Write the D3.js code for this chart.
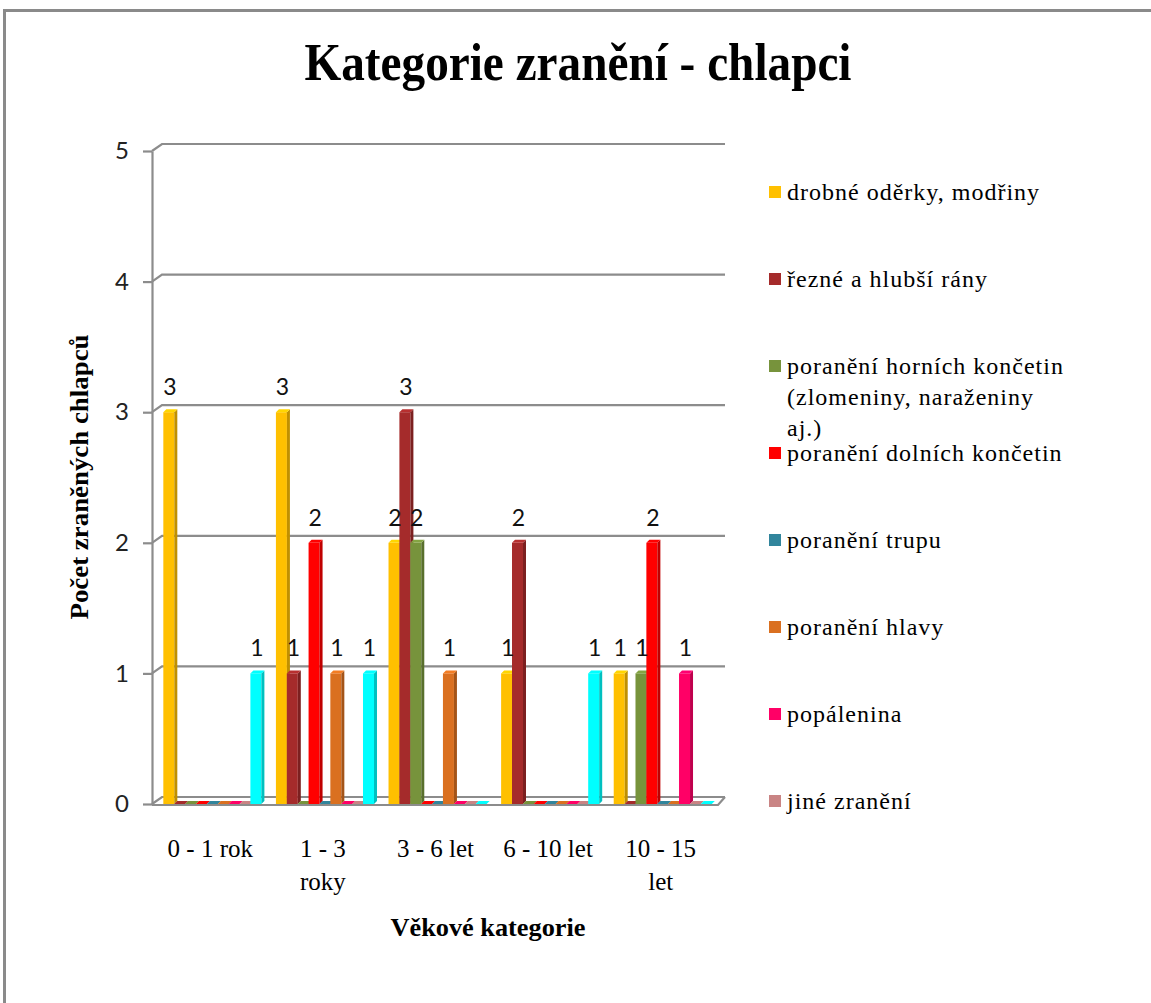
<!DOCTYPE html>
<html><head><meta charset="utf-8">
<script src="https://cdn.jsdelivr.net/npm/d3@7"></script>
<style>body{margin:0;background:#fff}</style>
</head><body><svg id="c" width="1151" height="1003"></svg>
<script>
// ---- data ----
const categories = ["0 - 1 rok", "1 - 3 roky", "3 - 6 let", "6 - 10 let", "10 - 15 let"];
const seriesNames = [
  "drobné oděrky, modřiny",
  "řezné a hlubší rány",
  "poranění horních končetin (zlomeniny, naraženiny aj.)",
  "poranění dolních končetin",
  "poranění trupu",
  "poranění hlavy",
  "popálenina",
  "jiné zranění",
  "" // unnamed series (not shown in legend)
];
const drobne     = [3, 3, 2, 1, 1];
const rezne      = [0, 1, 3, 2, 0];
const horni      = [0, 0, 2, 0, 1];
const dolni      = [0, 2, 0, 0, 2];
const trup       = [0, 0, 0, 0, 0];
const hlava      = [0, 1, 1, 0, 0];
const popalenina = [0, 0, 0, 0, 1];
const jine       = [0, 0, 0, 0, 0];
const neuvedeno  = [1, 1, 0, 1, 0];
const seriesValues = [drobne, rezne, horni, dolni, trup, hlava, popalenina, jine, neuvedeno];
const seriesColors = ["#FFC000", "#A52B2B", "#77933C", "#FF0000", "#31859C", "#DA7020", "#FF0066", "#C98484", "#00FFFF"];
const yTicks = [0, 1, 2, 3, 4, 5];
const titleText = "Kategorie zranění - chlapci";
const yTitleText = "Počet zraněných chlapců";
const xTitleText = "Věkové kategorie";

// ---- drawing ----
const svg = d3.select("#c");
const serif = "'Liberation Serif','Times New Roman',serif";
const sans = "Lato,'Liberation Sans',sans-serif";

svg.append("rect").attr("x", 4.5).attr("y", 10.5).attr("width", 1400).attr("height", 1200)
  .attr("fill", "#fff").attr("stroke", "#8a8a8a").attr("stroke-width", 3);

const x0 = d3.scaleBand().domain(categories).range([156, 719]).paddingInner(0.13).paddingOuter(0.065);
const x1 = d3.scaleBand().domain(d3.range(seriesValues.length)).range([0, x0.bandwidth()]);
const y = d3.scaleLinear().domain([0, 5]).range([804, 151]);

const axisX = 152, depthX = 10, depthY = 7, wallRight = 725;
const gridC = "#8c8c8c";

// gridlines with 3D wall offset
const grid = svg.append("g");
yTicks.forEach(v => {
  const yy = y(v);
  grid.append("path")
    .attr("d", `M${axisX},${yy}L${axisX + depthX},${yy - depthY}L${wallRight},${yy - depthY}`)
    .attr("fill", "none").attr("stroke", gridC).attr("stroke-width", 2.2);
});
// floor
const y0 = y(0);
svg.append("path")
  .attr("d", `M${axisX},${y0 + 1}L${718},${y0 + 1}L${wallRight},${y0 - depthY}`)
  .attr("fill", "none").attr("stroke", gridC).attr("stroke-width", 2.2);

// y axis
const yAxis = svg.append("g").attr("transform", `translate(${axisX},0)`)
  .call(d3.axisLeft(y).tickValues(yTicks).tickSize(9).tickSizeOuter(0).tickPadding(14).tickFormat(d3.format("d")));
yAxis.select(".domain").attr("stroke", gridC).attr("stroke-width", 2.2);
yAxis.selectAll(".tick line").attr("stroke", gridC).attr("stroke-width", 2.2);
yAxis.selectAll(".tick text").attr("font-family", sans).attr("font-size", 24).attr("fill", "#222");

// bars
const bw = 11, bdx = 3, bdy = 3;
const bars = svg.append("g");
categories.forEach((cat, ci) => {
  seriesValues.forEach((vals, si) => {
    const v = vals[ci];
    const bx = x0(cat) + x1(si);
    const yt = y(v);
    const col = d3.color(seriesColors[si]);
    const g = bars.append("g");
    if (v > 0) {
      g.append("rect").attr("x", bx).attr("y", yt).attr("width", bw).attr("height", y0 - yt).attr("fill", col.formatHex());
      g.append("path").attr("d", `M${bx + bw},${yt}L${bx + bw + bdx},${yt - bdy}L${bx + bw + bdx},${y0 - bdy}L${bx + bw},${y0}Z`)
        .attr("fill", col.darker(0.8).formatHex());
    }
    g.append("path").attr("d", `M${bx},${yt}L${bx + bdx},${yt - bdy}L${bx + bw + bdx},${yt - bdy}L${bx + bw},${yt}Z`)
      .attr("fill", v > 0 ? col.brighter(0.3).formatHex() : col.formatHex());
    if (v > 0) {
      svg.append("text").attr("x", bx + bw / 2 + 1).attr("y", yt - 17)
        .attr("text-anchor", "middle").attr("font-family", sans).attr("font-size", 23).attr("fill", "#111")
        .text(v);
    }
  });
});

// wrap helper
function wrapText(sel, text, maxW, lineH) {
  const words = text.split(" ");
  let line = [];
  let tspan = sel.append("tspan").attr("x", sel.attr("x")).attr("dy", 0);
  words.forEach(w => {
    line.push(w);
    tspan.text(line.join(" "));
    if (tspan.node().getComputedTextLength() > maxW && line.length > 1) {
      line.pop();
      tspan.text(line.join(" "));
      line = [w];
      tspan = sel.append("tspan").attr("x", sel.attr("x")).attr("dy", lineH).text(w);
    }
  });
}

// category labels
categories.forEach(cat => {
  const t = svg.append("text").attr("x", x0(cat) + x0.bandwidth() / 2 - 2).attr("y", 857)
    .attr("text-anchor", "middle").attr("font-family", serif).attr("font-size", 25).attr("fill", "#000");
  wrapText(t, cat, 94, 33);
});

// titles
svg.append("text").attr("x", 578).attr("y", 80).attr("text-anchor", "middle")
  .attr("font-family", serif).attr("font-weight", "bold").attr("font-size", 52)
  .attr("textLength", 547).attr("lengthAdjust", "spacingAndGlyphs").text(titleText);
svg.append("text").attr("transform", "translate(88,477) rotate(-90)").attr("text-anchor", "middle")
  .attr("font-family", serif).attr("font-weight", "bold").attr("font-size", 25)
  .attr("textLength", 285).attr("lengthAdjust", "spacingAndGlyphs").text(yTitleText);
svg.append("text").attr("x", 488).attr("y", 936).attr("text-anchor", "middle")
  .attr("font-family", serif).attr("font-weight", "bold").attr("font-size", 25)
  .attr("textLength", 195).attr("lengthAdjust", "spacingAndGlyphs").text(xTitleText);

// legend
const legend = svg.append("g");
seriesNames.forEach((name, i) => {
  if (!name) return;
  const cy = 192 + i * 87;
  legend.append("rect").attr("x", 769).attr("y", cy - 6).attr("width", 12).attr("height", 12).attr("fill", seriesColors[i]);
  const t = legend.append("text").attr("x", 787).attr("y", cy + 8)
    .attr("font-family", serif).attr("font-size", 24).attr("letter-spacing", 1).attr("fill", "#000");
  wrapText(t, name, 282, 31);
});
</script>
</body></html>
